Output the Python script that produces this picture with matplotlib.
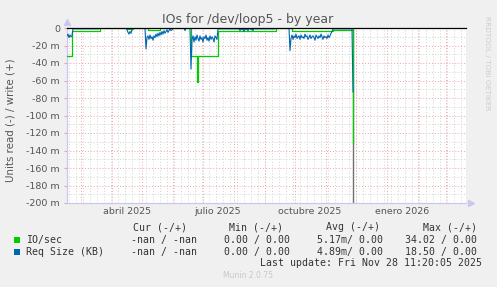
import numpy as np
import matplotlib
matplotlib.use("Agg")
import matplotlib.pyplot as plt
from matplotlib.patches import Rectangle

# data: read side (negative), in milli-units, one point per day from start
start = np.datetime64('2025-02-15')
now = np.datetime64('2025-11-28T11:20')

io_days = [0, 5, 33, 60, 66, 81, 93, 124, 130, 131, 151, 209, 225, 266, 286]
io_read = [-32, -3, 0, -1, 0, -2, 0, -32, -62, -32, -3, 0, -3, -2.5, -131]

req_read = ([-9, -7, -11, -8, -10, -9] + [-1] * 27 + [0] * 27
            + [-2, -5, -7, -4, -6, -2] + [0] * 13 + [-24]
            + [-11, -9, -13, -8, -12, -10, -14, -9, -11, -7, -10, -6, -9, -5,
               -8, -4, -7, -3, -6, -4, -2, -5, -3, -1, -3, -2, -1]
            + [0] * 11 + [-3] + [0] * 5 + [-47]
            + [-13, -9, -16, -10, -14, -8, -12, -15, -9, -13, -11, -16, -10,
               -12, -8, -14, -11, -15, -9, -13, -10, -12, -16, -9, -11, -13]
            + [-1] * 22
            + [-3, 0, -2, -1, -4, 0, -2, -1, -3, -1, 0, -2, -1, -3, 0, -1]
            + [-1] * 20 + [0] * 14 + [-26]
            + [-12, -8, -13, -9, -11, -7, -12, -10, -9, -13, -8, -11, -10, -12,
               -7, -10, -9, -13, -11, -8, -12, -10, -9, -11, -14, -8, -10, -12,
               -9, -11, -7, -10, -13, -9, -11, -10, -12, -8, -11, -9, -6, -4]
            + [-1] * 20 + [-73])

month_labels = ['abril 2025', 'julio 2025', 'octubre 2025', 'enero 2026']
label_dates = ['2025-04-16', '2025-07-16', '2025-10-16', '2026-01-16']

legend_rows = [
    ('IO/sec', '#00CC00', '-nan / -nan', '0.00 / 0.00', '5.17m/ 0.00', '34.02 / 0.00'),
    ('Req Size (KB)', '#0066B3', '-nan / -nan', '0.00 / 0.00', '4.89m/ 0.00', '18.50 / 0.00'),
]

W, H = 497, 287
def fx(x): return x / W
def fy(y): return 1 - y / H

fig = plt.figure(figsize=(W / 100, H / 100), dpi=100, facecolor='#F0F0F0')
ax = fig.add_axes([fx(67), fy(203), (466 - 67) / W, (203 - 28) / H])
ax.set_facecolor('white')

x0 = np.datetime64('2025-02-15')
x1 = np.datetime64('2026-03-21')
ax.set_xlim(x0, x1)
ax.set_ylim(-200, 0)

# grid
red = '#EDA3A3'
gray = '#D2D2D2'
for v in range(-190, 0, 10):
    c = red if v % 20 == 0 else gray
    ax.axhline(v, color=c, lw=0.7, ls=(0, (1, 2)), zorder=1)
wk = np.arange(np.datetime64('2025-02-17'), x1, np.timedelta64(7, 'D'))
for d in wk:
    ax.axvline(d, color=gray, lw=0.7, ls=(0, (1, 2)), zorder=1)
months = np.arange(np.datetime64('2025-03'), np.datetime64('2026-04'), np.timedelta64(1, 'M'))
for m in months:
    ax.axvline(m.astype('datetime64[D]'), color=red, lw=0.7, ls=(0, (1, 2)), zorder=1)

ax.axvline(now, color='#707070', lw=1.0, zorder=2)

io_x = start + np.array(io_days).astype('timedelta64[D]')
ax.plot(io_x, io_read, drawstyle='steps-post', color='#00CC00', lw=0.9, zorder=3)
req_x = start + np.arange(len(req_read)).astype('timedelta64[D]')
ax.plot(req_x, req_read, color='#0066B3', lw=0.8, zorder=4)

ax.axhline(0, color='black', lw=0.9, zorder=5, clip_on=False)

for s in ['top', 'right']:
    ax.spines[s].set_visible(False)
for s in ['left', 'bottom']:
    ax.spines[s].set_color('#C8C8F0')
    ax.spines[s].set_linewidth(0.9)
ax.plot([0], [1.035], marker='^', ms=4, color='#C8C8F0', transform=ax.transAxes, clip_on=False)
ax.plot([1.012], [0], marker='>', ms=4, color='#C8C8F0', transform=ax.transAxes, clip_on=False)

yt = list(range(-200, 1, 20))
ax.set_yticks(yt)
ax.set_yticklabels(['0' if v == 0 else '%d m' % v for v in yt])
ax.tick_params(axis='y', length=2, color=red, labelsize=6.8, labelcolor='#555555', pad=3)
ax.set_xticks([np.datetime64(d) for d in label_dates])
ax.set_xticklabels(month_labels)
ax.tick_params(axis='x', length=0, labelsize=6.8, labelcolor='#555555', pad=3)

fig.text(fx(248), fy(19), 'IOs for /dev/loop5 - by year', ha='center', va='center',
         fontsize=9, color='#555555')
fig.text(fx(11), fy(120), 'Units read (-) / write (+)', rotation=90, ha='center',
         va='center', fontsize=7.4, color='#555555')
fig.text(fx(487), fy(63), 'RRDTOOL / TOBI OETIKER', rotation=270, ha='center',
         va='center', fontsize=5.3, color='#CCCCCC')

mono = dict(family='DejaVu Sans Mono', fontsize=7.1, color='#333333', va='center')
for txt, xr in zip(['Cur (-/+)', 'Min (-/+)', 'Avg (-/+)', 'Max (-/+)'], [187, 283, 380, 477]):
    fig.text(fx(xr), fy(227), txt, ha='right', **mono)
cols = [197, 290, 383, 477]
for i, row in enumerate(legend_rows):
    y = 240 + i * 11.7
    fig.add_artist(Rectangle((fx(14), fy(y + 3)), 6 / W, 6 / H, transform=fig.transFigure,
                             color=row[1], lw=0))
    fig.text(fx(26), fy(y), row[0], ha='left', **mono)
    for txt, xr in zip(row[2:], cols):
        fig.text(fx(xr), fy(y), txt, ha='right', **mono)
fig.text(fx(482), fy(263.5), 'Last update: Fri Nov 28 11:20:05 2025', ha='right', **mono)
fig.text(fx(248), fy(276), 'Munin 2.0.75', ha='center', va='center', fontsize=5.5,
         color='#C8C8C8')

fig.savefig('out.png', dpi=100, facecolor=fig.get_facecolor())
